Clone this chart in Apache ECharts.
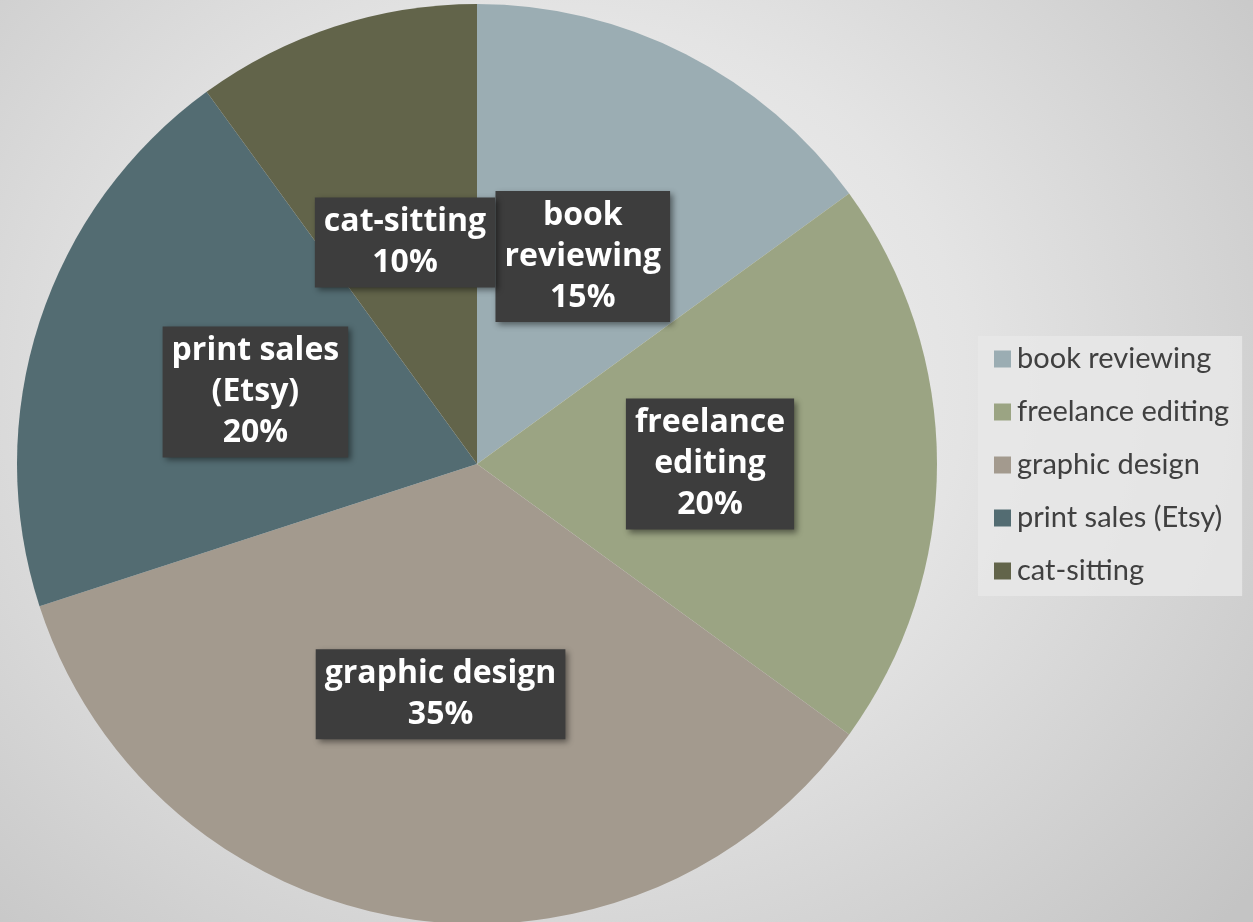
<!DOCTYPE html>
<html>
<head>
<meta charset="utf-8">
<script src="https://cdn.jsdelivr.net/npm/echarts@6/dist/echarts.min.js"></script>
<style>
html,body{margin:0;padding:0;width:1253px;height:922px;overflow:hidden;
background:radial-gradient(ellipse 900px 800px at 560px 380px,#f4f4f4 0%,#e4e4e4 45%,#c4c4c4 100%);}
#c{width:1253px;height:922px;}
</style>
</head>
<body>
<div id="c"></div>
<script>
const categories = ['book reviewing','freelance editing','graphic design','print sales (Etsy)','cat-sitting'];
const shares = [15, 20, 35, 20, 10];
const labelTexts = ['book\nreviewing','freelance\nediting','graphic design','print sales\n(Etsy)','cat-sitting'];
const colors = ['#9BADB3','#9BA483','#A39A8E','#536C72','#62644A'];

const chart = echarts.init(document.getElementById('c'));
chart.setOption({
  backgroundColor: 'transparent',
  animation: false,
  color: colors,
  legend: {
    orient: 'vertical',
    left: 978, top: 336,
    itemWidth: 17, itemHeight: 17, itemGap: 23,
    icon: 'rect',
    backgroundColor: 'rgba(232,232,232,0.85)',
    padding: [8, 13, 10, 16],
    textStyle: {fontFamily: 'Lato', fontSize: 29, lineHeight: 30, color: '#404040', padding: [0,0,0,1]},
    data: categories
  },
  series: [{
    type: 'pie',
    center: [477, 464],
    radius: 460,
    startAngle: 90,
    clockwise: true,
    label: {
      position: 'inside',
      formatter: p => labelTexts[p.dataIndex] + '\n' + p.value + '%',
      fontFamily: 'Open Sans', fontWeight: 'bold', fontSize: 32, color: '#fff',
      lineHeight: 41,
      backgroundColor: '#3d3d3d',
      padding: [5, 9, 3, 9],
      shadowColor: 'rgba(0,0,0,0.45)', shadowBlur: 6, shadowOffsetX: 3, shadowOffsetY: 3
    },
    labelLine: {show: false},
    emphasis: {disabled: true},
    data: categories.map((c, i) => ({name: c, value: shares[i]}))
  }]
});
</script>
</body>
</html>
